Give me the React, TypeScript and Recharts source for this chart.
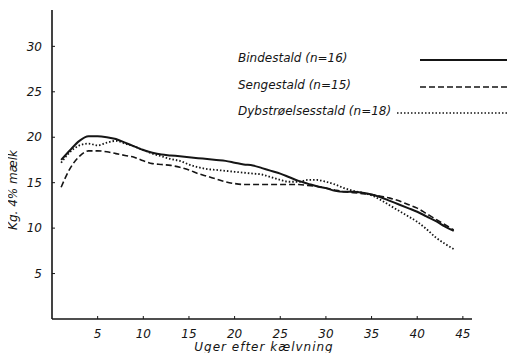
import {Line, LineChart, XAxis, YAxis} from "recharts";

const weeks = [1, 2, 3, 4, 5, 6, 7, 8, 9, 10, 11, 12, 13, 14, 15, 16, 17, 18, 19, 20, 21, 22,
    23, 24, 25, 26, 27, 28, 29, 30, 31, 32, 33, 34, 35, 36, 37, 38, 39, 40, 41, 42, 43, 44];

const bindestald = [17.5, 18.6, 19.6, 20.1, 20.1, 20.0, 19.8, 19.4, 19.0, 18.6, 18.3, 18.1, 18.0,
    17.9, 17.8, 17.7, 17.6, 17.5, 17.4, 17.2, 17.0, 16.9, 16.6, 16.3, 16.0, 15.6, 15.2, 14.9,
    14.6, 14.4, 14.1, 14.0, 14.0, 13.9, 13.7, 13.4, 13.0, 12.6, 12.2, 11.8, 11.3, 10.8, 10.2, 9.7];

const sengestald = [14.5, 16.6, 17.9, 18.5, 18.5, 18.4, 18.2, 18.0, 17.8, 17.4, 17.1, 17.0, 16.9,
    16.7, 16.4, 16.0, 15.7, 15.4, 15.1, 14.9, 14.8, 14.8, 14.8, 14.8, 14.8, 14.8, 14.8, 14.7,
    14.6, 14.4, 14.2, 14.0, 13.9, 13.8, 13.7, 13.5, 13.3, 13.0, 12.6, 12.2, 11.6, 11.0, 10.4, 9.8];

const dybstroelse = [17.2, 18.4, 19.1, 19.3, 19.1, 19.4, 19.6, 19.3, 19.0, 18.6, 18.2, 17.9, 17.6,
    17.4, 17.0, 16.7, 16.5, 16.4, 16.3, 16.2, 16.1, 16.0, 15.9, 15.6, 15.3, 15.1, 15.1, 15.3,
    15.3, 15.1, 14.8, 14.4, 14.1, 13.9, 13.6, 13.1, 12.5, 11.9, 11.3, 10.7, 9.9, 9.0, 8.3, 7.7];

const xTicks = [5, 10, 15, 20, 25, 30, 35, 40, 45];
const yTicks = [5, 10, 15, 20, 25, 30];

const seriesNames = ["Bindestald (n=16)", "Sengestald (n=15)", "Dybstrøelsesstald (n=18)"];

const data = weeks.map((w, i) => ({
    week: w,
    binde: bindestald[i],
    senge: sengestald[i],
    dyb: dybstroelse[i],
}));

const ink = "#151515";
const font = "'DejaVu Sans', sans-serif";

// legend + titles drawn by hand, placed like in the print
function Overlay() {
    const rows = [
        {label: seriesNames[0], y: 58, x1: 420, dash: undefined, w: 2},
        {label: seriesNames[1], y: 85, x1: 420, dash: "6 3", w: 1.6},
        {label: seriesNames[2], y: 111, x1: 397, dash: "1.5 2", w: 1.6},
    ];
    return (
        <svg width={515} height={361} style={{position: "absolute", left: 0, top: 0, pointerEvents: "none"}}>
            <text x={6} y={5} fontSize={12} fontStyle="italic" fontFamily={font} fill={ink}>
                Figur 6. Ydelseskurver
            </text>
            {rows.map((r) => (
                <g key={r.label}>
                    <text x={238} y={r.y + 4} fontSize={12} fontStyle="italic" fontFamily={font} fill={ink}>
                        {r.label}
                    </text>
                    <line x1={r.x1} x2={512} y1={r.y + 2} y2={r.y + 2} stroke={ink}
                          strokeWidth={r.w} strokeDasharray={r.dash}/>
                </g>
            ))}
            <text x={264} y={351} textAnchor="middle" fontSize={12} fontStyle="italic"
                  fontFamily={font} fill={ink} letterSpacing={1}>
                Uger efter kælvning
            </text>
            <text transform="translate(17,190) rotate(-90)" textAnchor="middle" fontSize={12}
                  fontStyle="italic" fontFamily={font} fill={ink}>
                Kg. 4% mælk
            </text>
        </svg>
    );
}

export default function App() {
    return (
        <div style={{margin: -8, width: 515, height: 361, position: "relative", background: "#fff"}}>
            <LineChart width={515} height={361} data={data}
                       margin={{top: 10, right: 43, left: 0, bottom: 0}}>
                <XAxis dataKey="week" type="number" domain={[0, 46]} ticks={xTicks}
                       height={42} tickSize={-3} tickMargin={13}
                       axisLine={{stroke: ink, strokeWidth: 1.6}} tickLine={{stroke: ink}}
                       tick={{fontSize: 12, fontStyle: "italic", fontFamily: font, fill: ink}}/>
                <YAxis type="number" domain={[0, 34]} ticks={yTicks} width={52}
                       tickSize={-3} tickMargin={13}
                       axisLine={{stroke: ink, strokeWidth: 1.6}} tickLine={{stroke: ink}}
                       tick={{fontSize: 12, fontStyle: "italic", fontFamily: font, fill: ink}}/>
                <Line dataKey="binde" name={seriesNames[0]} type="monotone" stroke={ink}
                      strokeWidth={2} dot={false} isAnimationActive={false}/>
                <Line dataKey="senge" name={seriesNames[1]} type="monotone" stroke={ink}
                      strokeWidth={1.6} strokeDasharray="6 3" dot={false} isAnimationActive={false}/>
                <Line dataKey="dyb" name={seriesNames[2]} type="monotone" stroke={ink}
                      strokeWidth={1.8} strokeDasharray="1.5 2" dot={false} isAnimationActive={false}/>
            </LineChart>
            <Overlay/>
        </div>
    );
}
